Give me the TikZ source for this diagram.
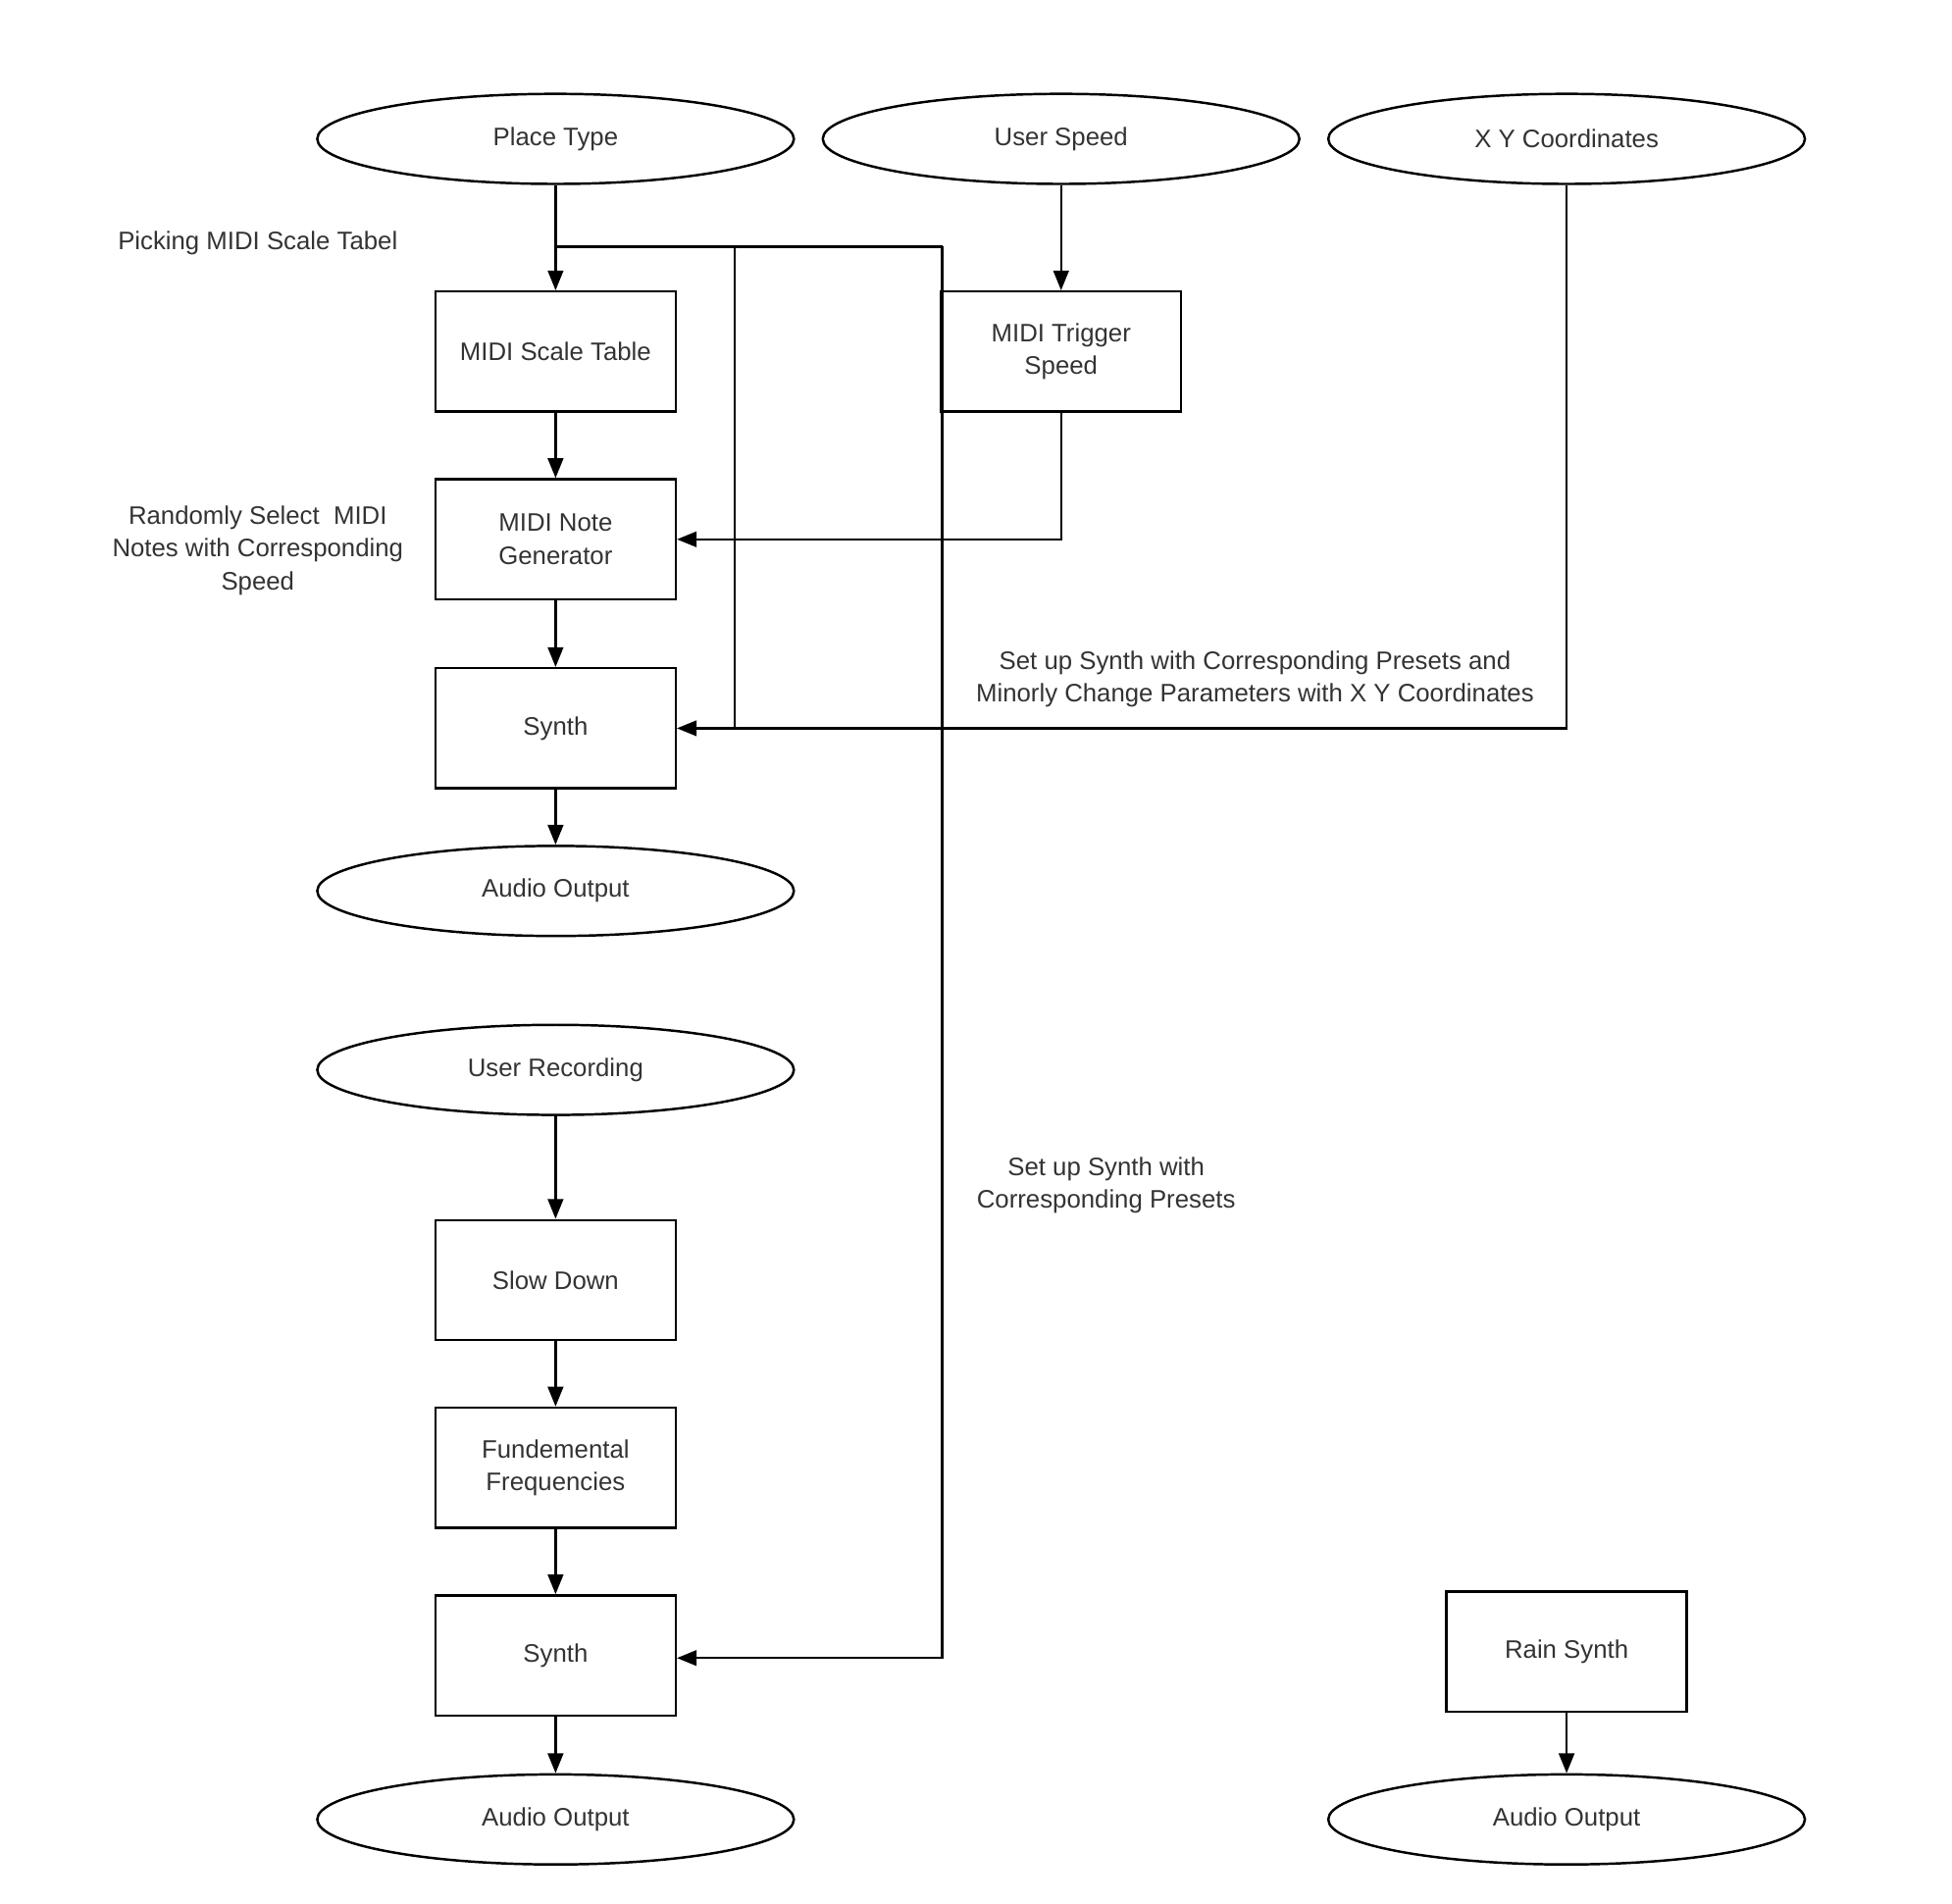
\documentclass[tikz,border=0pt]{standalone}
\usepackage{fontspec}
\setmainfont{Liberation Sans}
\usetikzlibrary{shapes.geometric,arrows.meta}
\tikzset{
  term/.style={ellipse, draw, line width=1.1pt, minimum width=7.62cm, minimum height=1.44cm, inner sep=0pt},
  proc/.style={rectangle, draw, line width=1.1pt, minimum width=3.84cm, minimum height=1.92cm, align=center, inner sep=2pt},
  note/.style={align=center, text=black!80},
  link/.style={line width=1.1pt, -{Triangle[length=9pt,width=7pt]}},
  wire/.style={line width=1.1pt}
}
\begin{document}
\begin{tikzpicture}[x=0.02cm, y=-0.02cm, font=\fontsize{11.5}{14.8}\selectfont, text=black!80]
    \useasboundingbox (0,0) rectangle (1560,1521);

    % Ingressi
    \node[term] (place) at (444,111) {Place Type};
    \node[term] (speed) at (848,111) {User Speed};
    \node[term] (xy) at (1252,111) {X Y Coordinates};

    % Ramo superiore
    \node[proc] (scale) at (444,281) {MIDI Scale Table};
    \node[proc] (trig) at (848,281) {MIDI Trigger\\Speed};
    \node[proc] (notegen) at (444,431) {MIDI Note\\Generator};
    \node[proc] (synthA) at (444,582) {Synth};
    \node[term] (outA) at (444,712) {Audio Output};

    % Ramo inferiore
    \node[term] (rec) at (444,855) {User Recording};
    \node[proc] (slow) at (444,1023) {Slow Down};
    \node[proc] (fund) at (444,1173) {Fundemental\\Frequencies};
    \node[proc] (synthB) at (444,1323) {Synth};
    \node[term] (outB) at (444,1454) {Audio Output};

    % Pioggia
    \node[proc] (rain) at (1252,1320) {Rain Synth};
    \node[term] (outC) at (1252,1454) {Audio Output};

    % Etichette
    \node[note] (lblpick) at (206,194) {Picking MIDI Scale Tabel};
    \node[note] (lblrand) at (206,440) {Randomly Select\ \ MIDI\\Notes with Corresponding\\Speed};
    \node[note] (lblxy) at (1003,543) {Set up Synth with Corresponding Presets and\\Minorly Change Parameters with X Y Coordinates};
    \node[note] (lblpre) at (884,947) {Set up Synth with\\Corresponding Presets};

    % Punti di snodo
    \coordinate (j0) at (444,197);
    \coordinate (j1) at (587,197);
    \coordinate (j2) at (753,197);
    \coordinate (j3) at (587,582);
    \coordinate (j4) at (753,1325);
    \coordinate (j5) at (1252,582);
    \coordinate (j6) at (848,431);

    % Collegamenti
    \draw[link] (place) -- (scale);
    \draw[link] (speed) -- (trig);
    \draw[link] (scale) -- (notegen);
    \draw[link] (notegen) -- (synthA);
    \draw[link] (synthA) -- (outA);
    \draw[link] (rec) -- (slow);
    \draw[link] (slow) -- (fund);
    \draw[link] (fund) -- (synthB);
    \draw[link] (synthB) -- (outB);
    \draw[link] (rain) -- (outC);
    \draw[wire] (j0) -- (j1) -- (j2);
    \draw[wire] (j1) -- (j3);
    \draw[link] (j2) -- (j4) -- (synthB.east |- j4);
    \draw[link] (xy) -- (j5) -- (synthA.east);
    \draw[link] (trig) -- (j6) -- (notegen.east);
\end{tikzpicture}
\end{document}
